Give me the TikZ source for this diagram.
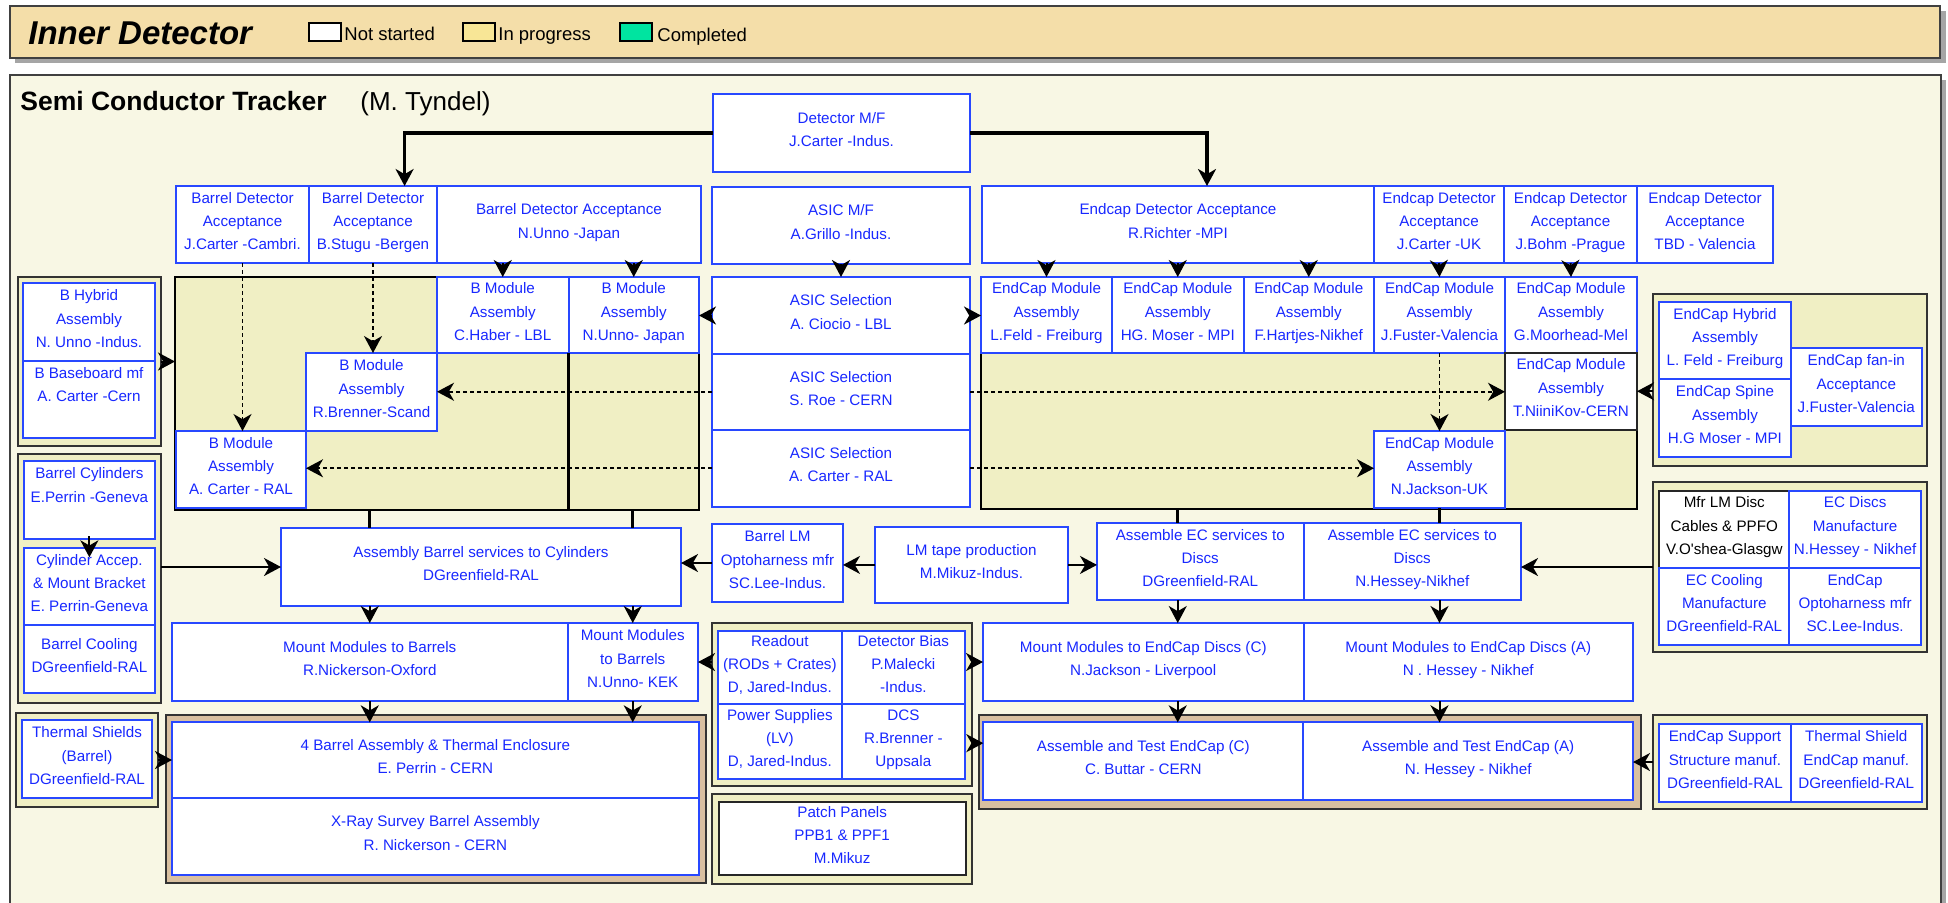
\documentclass[tikz,border=0pt]{standalone}
\usepackage{fontspec}
\setmainfont{Liberation Sans}
\usetikzlibrary{arrows.meta,calc}

\definecolor{hdrfill}{RGB}{244,222,169}
\definecolor{panelfill}{RGB}{248,247,228}
\definecolor{olivefill}{RGB}{240,239,196}
\definecolor{tanfill}{RGB}{217,192,160}
\definecolor{cellblue}{RGB}{40,72,255}
\definecolor{textblue}{RGB}{24,40,255}
\definecolor{shadegray}{RGB}{165,165,165}
\definecolor{donefill}{RGB}{0,228,160}
\definecolor{busyfill}{RGB}{248,230,150}

% box from (x1,y1) to (x2,y2), pixel units, y downwards
\newcommand\cellat[7]{%
  \node[#1, minimum width={(#5-#3)*0.5pt}, minimum height={(#6-#4)*0.5pt}]
    (#2) at ({(#3+#5)/2},{(#4+#6)/2}) {#7};}

\tikzset{
  cell/.style={draw=cellblue, line width=1pt, fill=white, text=textblue,
    inner sep=0pt, outer sep=0pt, align=center,
    font=\fontsize{7.6}{11.65}\selectfont,
    execute at begin node=\strut, execute at end node=\strut},
  darkcell/.style={cell, draw=black!85},
  grp/.style={draw=black!80, line width=1pt, fill=olivefill, inner sep=0pt, outer sep=0pt},
  tangrp/.style={grp, fill=tanfill},
  region/.style={draw=black, line width=1.4pt, fill=olivefill, inner sep=0pt, outer sep=0pt},
  frame/.style={draw=black!75, line width=0.9pt, inner sep=0pt, outer sep=0pt},
  legendbox/.style={draw=black, line width=1.1pt, inner sep=0pt, outer sep=0pt},
  legendtext/.style={anchor=base west, inner sep=0pt, font=\fontsize{9.25}{11}\selectfont},
  arr/.style={line width=1pt, -{Stealth[length=8.5pt,width=9pt,inset=2.6pt]}},
  bigarr/.style={arr, line width=1.6pt},
  dasharr/.style={arr, line width=0.8pt, dash pattern=on 2pt off 1.5pt},
  link/.style={line width=1.3pt},
}

\begin{document}
\begin{tikzpicture}[x=0.5pt, y=-0.5pt]
\useasboundingbox (0,0) rectangle (1948,902);

% ---- title bar with legend ----
\fill[shadegray] (15,11) rectangle (1946,63);
\cellat{frame, fill=hdrfill}{hdrbox}{10}{6}{1940}{58}{}
\node[anchor=base west, inner sep=0pt, font=\fontsize{16.5}{20}\selectfont\bfseries\itshape]
  (hdrTitle) at (28,44) {Inner Detector};
\cellat{legendbox, fill=white}{lgNot}{309}{23}{341}{41}{}
\node[legendtext] (lgNotTxt) at (344,40) {Not started};
\cellat{legendbox, fill=busyfill}{lgBusy}{463}{23}{495}{41}{}
\node[legendtext] (lgBusyTxt) at (498,40) {In progress};
\cellat{legendbox, fill=donefill}{lgDone}{620}{23}{652}{41}{}
\node[legendtext] (lgDoneTxt) at (657,41.5) {Completed};

% ---- SCT panel ----
\fill[shadegray] (15,80) rectangle (1946,915);
\cellat{frame, fill=panelfill}{panel}{10}{75}{1941}{915}{}
\node[anchor=base west, inner sep=0pt, font=\fontsize{13.25}{16}\selectfont\bfseries]
  (sctTitle) at (20,110) {Semi Conductor Tracker};
\node[anchor=base west, inner sep=0pt, font=\fontsize{13}{16}\selectfont]
  (sctLead) at (360,110) {(M. Tyndel)};

% module assembly areas
\cellat{region}{breg}{175}{277}{699}{510}{}
\cellat{region}{ereg}{981}{277}{1637}{509}{}

% top rows
\cellat{cell}{dmf}{713}{94}{970}{172}{Detector M/F\\J.Carter -Indus.}
\cellat{cell}{bda1}{176}{186}{309}{263}{Barrel Detector\\Acceptance\\J.Carter -Cambri.}
\cellat{cell}{bda2}{309}{186}{437}{263}{Barrel Detector\\Acceptance\\B.Stugu -Bergen}
\cellat{cell}{bda3}{437}{186}{701}{263}{Barrel Detector Acceptance\\N.Unno -Japan}
\cellat{cell}{amf}{712}{187}{970}{264}{ASIC M/F\\A.Grillo -Indus.}
\cellat{cell}{eda1}{982}{186}{1374}{263}{Endcap Detector Acceptance\\R.Richter -MPI}
\cellat{cell}{eda2}{1374}{186}{1504}{263}{Endcap Detector\\Acceptance\\J.Carter -UK}
\cellat{cell}{eda3}{1504}{186}{1637}{263}{Endcap Detector\\Acceptance\\J.Bohm -Prague}
\cellat{cell}{eda4}{1637}{186}{1773}{263}{Endcap Detector\\Acceptance\\TBD - Valencia}

% barrel modules
\cellat{cell}{bma1}{437}{277}{568.5}{353}{B Module\\Assembly\\C.Haber - LBL}
\cellat{cell}{bma2}{568.5}{277}{699}{353}{B Module\\Assembly\\N.Unno- Japan}
\cellat{cell}{bma3}{306}{353}{437}{431}{B Module\\Assembly\\R.Brenner-Scand}
\cellat{cell}{bma4}{176}{431}{306}{508}{B Module\\Assembly\\A. Carter - RAL}
\draw[link] (bma1.south east) -- (bma1.south east |- breg.south);

% ASIC selection
\cellat{cell}{as1}{712}{277}{970}{354}{ASIC Selection\\A. Ciocio - LBL}
\cellat{cell}{as2}{712}{354}{970}{429.5}{ASIC Selection\\S. Roe - CERN}
\cellat{cell}{as3}{712}{429.5}{970}{507}{ASIC Selection\\A. Carter - RAL}

% endcap modules
\cellat{cell}{ema1}{981}{277}{1112}{353}{EndCap Module\\Assembly\\L.Feld - Freiburg}
\cellat{cell}{ema2}{1112}{277}{1243.5}{353}{EndCap Module\\Assembly\\HG. Moser - MPI}
\cellat{cell}{ema3}{1243.5}{277}{1374}{353}{EndCap Module\\Assembly\\F.Hartjes-Nikhef}
\cellat{cell}{ema4}{1374}{277}{1505}{353}{EndCap Module\\Assembly\\J.Fuster-Valencia}
\cellat{cell}{ema5}{1505}{277}{1637}{353}{EndCap Module\\Assembly\\G.Moorhead-Mel}
\cellat{darkcell}{ema6}{1505}{353}{1637}{429.5}{EndCap Module\\Assembly\\T.NiiniKov-CERN}
\cellat{cell}{ema7}{1374}{431}{1505}{508}{EndCap Module\\Assembly\\N.Jackson-UK}

% left-hand supply groups
\cellat{grp}{gHyb}{17.5}{277}{161}{446}{}
\cellat{cell}{hyb}{23}{283}{155}{361}{B Hybrid\\Assembly\\N. Unno -Indus.}
\cellat{cell}{bbm}{23}{361}{155}{438}{B Baseboard mf\\A. Carter -Cern\\}
\cellat{grp}{gCyl}{17.5}{454}{161}{703}{}
\cellat{cell}{bcyl}{23.75}{460.7}{155}{539.3}{Barrel Cylinders\\E.Perrin -Geneva\\}
\cellat{cell}{cacc}{23.75}{548.3}{155}{625}{Cylinder Accep.\\\& Mount Bracket\\E. Perrin-Geneva}
\cellat{cell}{bcool}{23.75}{625}{155}{693.3}{Barrel Cooling\\DGreenfield-RAL}
\cellat{grp}{gThS}{16}{713}{158}{807}{}
\cellat{cell}{ths}{22}{720}{152}{798}{Thermal Shields\\(Barrel)\\DGreenfield-RAL}

% services row
\cellat{cell}{abs}{281}{528}{681}{606}{Assembly Barrel services to Cylinders\\DGreenfield-RAL}
\cellat{cell}{blm}{712}{524}{843}{602}{Barrel LM\\Optoharness mfr\\SC.Lee-Indus.}
\cellat{cell}{lmt}{875}{526.5}{1068}{603.3}{LM tape production\\M.Mikuz-Indus.}
\cellat{cell}{aec1}{1097}{523}{1303.5}{600}{Assemble EC services to\\Discs\\DGreenfield-RAL}
\cellat{cell}{aec2}{1303.5}{523}{1521}{600}{Assemble EC services to\\Discs\\N.Hessey-Nikhef}

% right-hand supply groups
\cellat{grp}{gEcH}{1653}{294}{1927}{466}{}
\cellat{cell}{ech}{1659.4}{301.7}{1790.5}{379.3}{EndCap Hybrid\\Assembly\\L. Feld - Freiburg}
\cellat{cell}{ecs}{1659.4}{379.3}{1790.5}{456.7}{EndCap Spine\\Assembly\\H.G Moser - MPI}
\cellat{cell}{ecf}{1790.5}{348.3}{1922}{426}{EndCap fan-in\\Acceptance\\J.Fuster-Valencia}
\cellat{grp}{gMfr}{1653}{481.7}{1927}{652.3}{}
\cellat{darkcell, text=black}{mfl}{1659.4}{490.7}{1789.2}{567.7}{Mfr LM Disc\\Cables \& PPFO\\V.O\textquotesingle shea-Glasgw}
\cellat{cell}{ecd}{1789.2}{490.7}{1921}{567.7}{EC Discs\\Manufacture\\N.Hessey - Nikhef}
\cellat{cell}{ecc}{1659.4}{567.7}{1789.2}{645}{EC Cooling\\Manufacture\\DGreenfield-RAL}
\cellat{cell}{eco}{1789.2}{567.7}{1921}{645}{EndCap\\Optoharness mfr\\SC.Lee-Indus.}
\cellat{grp}{gSup}{1653}{715}{1927}{809}{}
\cellat{cell}{ecsup}{1659.4}{724.3}{1790.5}{801.7}{EndCap Support\\Structure manuf.\\DGreenfield-RAL}
\cellat{cell}{ecth}{1790.5}{724.3}{1922}{801.7}{Thermal Shield\\EndCap manuf.\\DGreenfield-RAL}

% mounting row
\cellat{cell}{mmb1}{172}{623}{567.5}{701}{Mount Modules to Barrels\\R.Nickerson-Oxford}
\cellat{cell}{mmb2}{567.5}{623}{698}{701}{Mount Modules\\to Barrels\\N.Unno- KEK}
\cellat{cell}{mme1}{983}{623}{1303.5}{701}{Mount Modules to EndCap Discs (C)\\N.Jackson - Liverpool}
\cellat{cell}{mme2}{1303.5}{623}{1633}{701}{Mount Modules to EndCap Discs (A)\\N . Hessey - Nikhef}

% readout / power group and patch panels
\cellat{grp}{gRd}{712}{623}{972}{786}{}
\cellat{cell}{rd1}{718}{630.7}{841.7}{704}{Readout\\(RODs + Crates)\\D, Jared-Indus.}
\cellat{cell}{rd2}{841.7}{630.7}{965}{704}{Detector Bias\\P.Malecki\\-Indus.}
\cellat{cell}{rd3}{718}{704}{841.7}{779}{Power Supplies\\(LV)\\D, Jared-Indus.}
\cellat{cell}{rd4}{841.7}{704}{965}{779}{DCS\\R.Brenner -\\Uppsala}
\cellat{grp}{gPp}{712}{794}{972}{884}{}
\cellat{darkcell}{pp}{718.75}{801.7}{965.6}{875}{Patch Panels\\PPB1 \& PPF1\\M.Mikuz}

% final assembly groups
\cellat{tangrp}{gB4}{165.6}{715}{706}{882.7}{}
\cellat{cell}{b4a}{172}{722.3}{698.75}{797.7}{4 Barrel Assembly \& Thermal Enclosure\\E. Perrin - CERN}
\cellat{cell}{b4x}{172}{797.7}{698.75}{875}{X-Ray Survey Barrel Assembly\\R. Nickerson - CERN}
\cellat{tangrp}{gEC}{979}{715}{1640.5}{809}{}
\cellat{cell}{tbC}{983.3}{722.3}{1303.4}{800}{Assemble and Test EndCap (C)\\C. Buttar - CERN}
\cellat{cell}{tbA}{1303.4}{722.3}{1633}{800}{Assemble and Test EndCap (A)\\N. Hessey - Nikhef}

% ---- connectors ----
\draw[bigarr] (dmf.west) -| ($(bda2.north)+(31.6,0)$);
\draw[bigarr] (dmf.east) -| ($(eda1.north)+(29,0)$);

\draw[arr] (bma1.north |- bda3.south) -- (bma1.north);
\draw[arr] (bma2.north |- bda3.south) -- (bma2.north);
\draw[dasharr] (bda1.south) -- (bda1.south |- bma4.north);
\draw[dasharr] (bda2.south) -- (bda2.south |- bma3.north);
\draw[arr] (amf.south) -- (as1.north);
\draw[arr] (as1.west) -- (as1.west -| bma2.east);
\draw[arr] (as1.east) -- (as1.east -| ema1.west);
\draw[dasharr] (as2.west) -- (as2.west -| bma3.east);
\draw[dasharr] (as2.east) -- (as2.east -| ema6.west);
\draw[dasharr] (as3.west) -- (as3.west -| bma4.east);
\draw[dasharr] (as3.east) -- (as3.east -| ema7.west);
\foreach \t in {ema1,ema2,ema3} \draw[arr] (\t.north |- eda1.south) -- (\t.north);
\draw[arr] (eda2.south) -- (ema4.north);
\draw[arr] (eda3.south) -- (ema5.north);
\draw[dasharr] (ema4.south) -- (ema7.north);
\draw[arr] (gHyb.east) -- (gHyb.east -| breg.west);
\draw[arr] (gEcH.west |- ema6.east) -- (ema6.east);

\draw[link] (mmb1.north |- breg.south) -- (mmb1.north |- abs.north);
\draw[link] (mmb2.north |- breg.south) -- (mmb2.north |- abs.north);
\draw[link] (ema2.south |- ereg.south) -- (ema2.south |- aec1.north);
\draw[link] (ema7.south) -- (ema7.south |- aec2.north);

\draw[arr] ($(bcyl.south)+(0,-3)$) -- ($(cacc.north)+(0,9)$);
\draw[arr] (gCyl.east |- abs.west) -- (abs.west);
\draw[arr] (blm.west) -- (blm.west -| abs.east);
\draw[arr] (lmt.west) -- (lmt.west -| blm.east);
\draw[arr] (lmt.east) -- (lmt.east -| aec1.west);
\draw[arr] (gMfr.west) -- (gMfr.west -| aec2.east);

\draw[arr] (mmb1.north |- abs.south) -- (mmb1.north);
\draw[arr] (mmb2.north |- abs.south) -- (mmb2.north);
\draw[arr] (ema2.south |- aec1.south) -- (ema2.south |- mme1.north);
\draw[arr] (ema7.south |- aec2.south) -- (ema7.south |- mme2.north);
\draw[arr] (mmb1.south) -- (mmb1.south |- b4a.north);
\draw[arr] (mmb2.south) -- (mmb2.south |- b4a.north);
\draw[arr] (ema2.south |- mme1.south) -- (ema2.south |- tbC.north);
\draw[arr] (ema7.south |- mme2.south) -- (ema7.south |- tbA.north);

\draw[arr] (gRd.west |- mmb2.east) -- (mmb2.east);
\draw[arr] (gRd.east |- mme1.west) -- (mme1.west);
\draw[arr] ($(gRd.east |- tbC.west)+(0,-18)$) -- ($(tbC.west)+(0,-18)$);
\draw[arr] (gThS.east) -- (gThS.east -| b4a.west);
\draw[arr] (gSup.west) -- (gSup.west -| tbA.east);
\end{tikzpicture}
\end{document}
